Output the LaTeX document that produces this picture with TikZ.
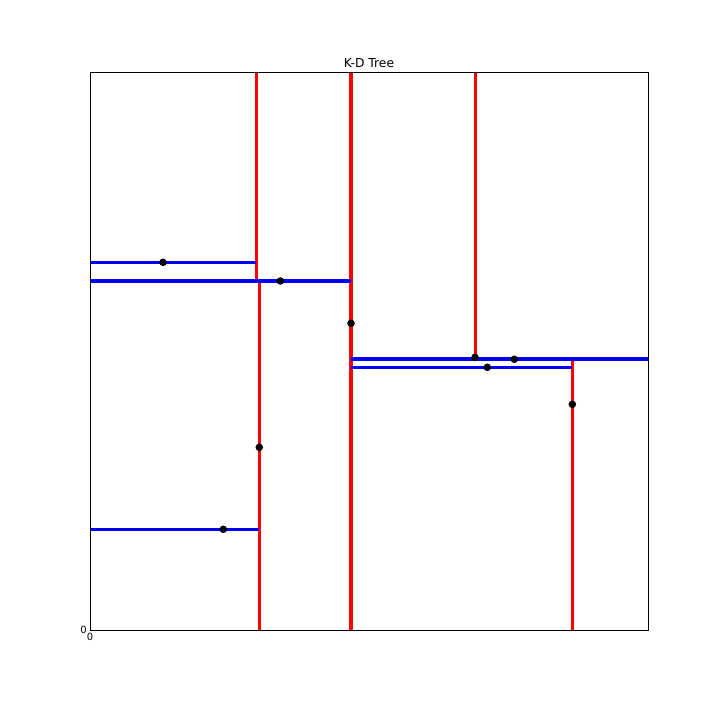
\documentclass[tikz,border=0pt]{standalone}
\usepackage{fontspec}
\setmainfont{DejaVu Sans}
\begin{document}
\begin{tikzpicture}[x=1pt,y=-1pt,
  redline/.style={draw=red,line width=3pt},
  redthick/.style={draw=red,line width=4pt},
  blueline/.style={draw=blue,line width=2.5pt},
  bluethick/.style={draw=blue,line width=4pt},
  pt/.style={fill=black,draw=none},
  frame/.style={draw=black,line width=1pt}]
\useasboundingbox (0,0) rectangle (720,720);
% red splits
\draw[redthick] (351,72) -- (351,630);
\draw[redline] (256,72) -- (256,281);
\draw[redline] (259.3,281) -- (259.3,630);
\draw[redline] (475,72) -- (475,358.5);
\draw[redline] (572.3,358.5) -- (572.3,630);
% blue splits
\draw[blueline] (90,262.3) -- (256,262.3);
\draw[bluethick] (90,281) -- (351,281);
\draw[bluethick] (351,358.5) -- (648,358.5);
\draw[blueline] (351,367.3) -- (572.3,367.3);
\draw[blueline] (90,529.3) -- (259.3,529.3);
% points
\foreach \p in {(163,262.3),(280.3,281),(351,323.3),(475,357.3),(514.3,359.3),(487.3,367.3),(572.3,404.3),(259.3,447.3),(223.3,529.3)}
  \fill[pt] \p circle (3.8);
% frame
\draw[frame] (90,72) rectangle (648,630);
\node[font=\fontsize{12.3}{14}\selectfont,anchor=base] (title) at (369,67) {K-D Tree};
\node[font=\fontsize{10}{12}\selectfont,anchor=east,inner sep=0pt] (ylab) at (87,630) {0};
\node[font=\fontsize{10}{12}\selectfont,anchor=north,inner sep=0pt] (xlab) at (90,633) {0};
\end{tikzpicture}
\end{document}
